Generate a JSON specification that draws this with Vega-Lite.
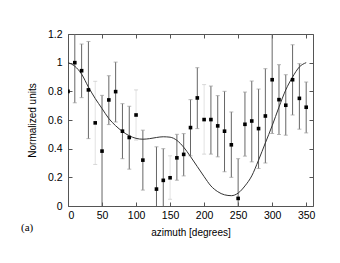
{
  "$schema": "https://vega.github.io/schema/vega-lite/v6.json",
  "width": 245,
  "height": 172,
  "autosize": {"type": "none"},
  "padding": {"left": 68, "top": 34, "right": 27, "bottom": 57},
  "background": "white",
  "config": {
    "view": {"stroke": "#555", "strokeWidth": 1},
    "axis": {
      "grid": false,
      "domain": false,
      "tickColor": "#555",
      "tickSize": -4,
      "labelOverlap": false,
      "labelFont": "Liberation Sans",
      "labelFontSize": 10.5,
      "labelColor": "#000",
      "titleFont": "Liberation Sans",
      "titleFontSize": 10,
      "titleFontWeight": "normal",
      "titleColor": "#000"
    }
  },
  "title": {
    "text": "(a)",
    "orient": "bottom",
    "anchor": "start",
    "frame": "group",
    "dx": -47,
    "dy": -20,
    "font": "Liberation Serif",
    "fontSize": 11,
    "fontWeight": "normal",
    "color": "#000"
  },
  "datasets": {
    "pts": [
      {"az": 0, "v": 0.80, "lo": null, "hi": null},
      {"az": 10, "v": 1.00, "lo": 0.72, "hi": 1.28},
      {"az": 20, "v": 0.944, "lo": 0.756, "hi": 1.13},
      {"az": 30, "v": 0.81, "lo": 0.47, "hi": 1.148},
      {"az": 40, "v": 0.58, "lo": null, "hi": null},
      {"az": 50, "v": 0.383, "lo": -0.01, "hi": 0.772},
      {"az": 60, "v": 0.74, "lo": 0.568, "hi": 0.909},
      {"az": 70, "v": 0.798, "lo": 0.586, "hi": 1.004},
      {"az": 80, "v": 0.522, "lo": 0.33, "hi": 0.714},
      {"az": 90, "v": 0.478, "lo": 0.257, "hi": 0.696},
      {"az": 100, "v": 0.635, "lo": null, "hi": null},
      {"az": 110, "v": 0.32, "lo": 0.111, "hi": 0.529},
      {"az": 130, "v": 0.118, "lo": -0.17, "hi": 0.413},
      {"az": 140, "v": 0.179, "lo": -0.04, "hi": 0.40},
      {"az": 150, "v": 0.197, "lo": null, "hi": null},
      {"az": 160, "v": 0.336, "lo": 0.18, "hi": 0.50},
      {"az": 170, "v": 0.36, "lo": 0.21, "hi": 0.505},
      {"az": 180, "v": 0.547, "lo": 0.35, "hi": 0.742},
      {"az": 190, "v": 0.754, "lo": 0.54, "hi": 0.965},
      {"az": 200, "v": 0.603, "lo": null, "hi": null},
      {"az": 210, "v": 0.603, "lo": 0.362, "hi": 0.837},
      {"az": 220, "v": 0.559, "lo": 0.343, "hi": 0.77},
      {"az": 230, "v": 0.522, "lo": 0.239, "hi": 0.80},
      {"az": 240, "v": 0.427, "lo": 0.20, "hi": 0.656},
      {"az": 250, "v": 0.053, "lo": -0.22, "hi": 0.33},
      {"az": 260, "v": 0.57, "lo": 0.348, "hi": 0.795},
      {"az": 270, "v": 0.593, "lo": 0.308, "hi": 0.872},
      {"az": 280, "v": 0.54, "lo": 0.262, "hi": 0.816},
      {"az": 290, "v": 0.628, "lo": 0.30, "hi": 0.958},
      {"az": 300, "v": 0.881, "lo": 0.506, "hi": 1.256},
      {"az": 310, "v": 0.742, "lo": 0.499, "hi": 0.986},
      {"az": 320, "v": 0.703, "lo": 0.494, "hi": 0.916},
      {"az": 330, "v": 0.881, "lo": 0.635, "hi": 1.125},
      {"az": 340, "v": 0.751, "lo": 0.536, "hi": 0.993},
      {"az": 350, "v": 0.689, "lo": 0.51, "hi": 0.865}
    ],
    "faint": [
      {"az": 40, "lo": 0.29, "hi": 0.87},
      {"az": 100, "lo": 0.46, "hi": 0.81},
      {"az": 150, "lo": 0.047, "hi": 0.35},
      {"az": 200, "lo": 0.362, "hi": 0.847}
    ],
    "curve": [
      {"az": 0, "f": 1.0}, {"az": 10, "f": 0.975}, {"az": 20, "f": 0.92},
      {"az": 30, "f": 0.83}, {"az": 40, "f": 0.75}, {"az": 50, "f": 0.68},
      {"az": 60, "f": 0.61}, {"az": 70, "f": 0.56}, {"az": 80, "f": 0.52},
      {"az": 90, "f": 0.49}, {"az": 100, "f": 0.472}, {"az": 110, "f": 0.466},
      {"az": 120, "f": 0.47}, {"az": 130, "f": 0.478}, {"az": 140, "f": 0.483},
      {"az": 150, "f": 0.48}, {"az": 160, "f": 0.458}, {"az": 170, "f": 0.41},
      {"az": 180, "f": 0.345}, {"az": 190, "f": 0.275}, {"az": 200, "f": 0.205},
      {"az": 210, "f": 0.14}, {"az": 220, "f": 0.1}, {"az": 230, "f": 0.078},
      {"az": 240, "f": 0.072}, {"az": 250, "f": 0.09}, {"az": 260, "f": 0.14},
      {"az": 270, "f": 0.21}, {"az": 280, "f": 0.32}, {"az": 290, "f": 0.44},
      {"az": 300, "f": 0.56}, {"az": 310, "f": 0.69}, {"az": 320, "f": 0.81},
      {"az": 330, "f": 0.9}, {"az": 340, "f": 0.97}, {"az": 350, "f": 1.0}
    ]
  },
  "layer": [
    {
      "data": {"name": "pts"},
      "mark": {"type": "point", "opacity": 0},
      "encoding": {
        "x": {"field": "az", "type": "quantitative",
              "scale": {"domain": [0, 360], "nice": false, "zero": false},
              "axis": {"values": [0, 50, 100, 150, 200, 250, 300, 350], "labelOverlap": false, "labelSeparation": 0, "title": "azimuth [degrees]", "labelPadding": 8, "titlePadding": 7}},
        "y": {"field": "v", "type": "quantitative",
              "scale": {"domain": [0, 1.2], "nice": false},
              "axis": {"values": [0, 0.2, 0.4, 0.6, 0.8, 1, 1.2], "labelOverlap": false, "labelSeparation": 0, "format": "~g", "title": "Normalized units", "labelPadding": 10, "titlePadding": 10}}
      }
    },
    {
      "data": {"name": "pts"},
      "mark": {"type": "point", "opacity": 0},
      "encoding": {
        "x": {"field": "az", "type": "quantitative",
              "axis": {"orient": "top", "values": [0, 50, 100, 150, 200, 250, 300, 350], "labels": false, "title": null}},
        "y": {"field": "v", "type": "quantitative",
              "axis": {"orient": "right", "values": [0, 0.2, 0.4, 0.6, 0.8, 1, 1.2], "labels": false, "title": null}}
      }
    },
    {
      "layer": [
        {
          "data": {"name": "faint"},
          "mark": {"type": "rule", "color": "#e2e2e2", "strokeWidth": 1, "clip": true},
          "encoding": {
            "x": {"field": "az", "type": "quantitative", "axis": null},
            "y": {"field": "lo", "type": "quantitative", "axis": null},
            "y2": {"field": "hi"}
          }
        },
        {
          "data": {"name": "faint"},
          "mark": {"type": "tick", "color": "#c8c8c8", "size": 4, "thickness": 1, "orient": "horizontal", "clip": true},
          "encoding": {
            "x": {"field": "az", "type": "quantitative", "axis": null},
            "y": {"field": "hi", "type": "quantitative", "axis": null}
          }
        },
        {
          "data": {"name": "faint"},
          "mark": {"type": "tick", "color": "#c8c8c8", "size": 4, "thickness": 1, "orient": "horizontal", "clip": true},
          "encoding": {
            "x": {"field": "az", "type": "quantitative", "axis": null},
            "y": {"field": "lo", "type": "quantitative", "axis": null}
          }
        },
        {
          "data": {"name": "pts"},
          "transform": [{"filter": "datum.lo != null"}],
          "mark": {"type": "rule", "color": "#666", "strokeWidth": 1, "clip": true},
          "encoding": {
            "x": {"field": "az", "type": "quantitative", "axis": null},
            "y": {"field": "lo", "type": "quantitative", "axis": null},
            "y2": {"field": "hi"}
          }
        },
        {
          "data": {"name": "pts"},
          "transform": [{"filter": "datum.lo != null"}],
          "mark": {"type": "tick", "color": "#999", "size": 4, "thickness": 1, "orient": "horizontal", "clip": true},
          "encoding": {
            "x": {"field": "az", "type": "quantitative", "axis": null},
            "y": {"field": "hi", "type": "quantitative", "axis": null}
          }
        },
        {
          "data": {"name": "pts"},
          "transform": [{"filter": "datum.lo != null"}],
          "mark": {"type": "tick", "color": "#999", "size": 4, "thickness": 1, "orient": "horizontal", "clip": true},
          "encoding": {
            "x": {"field": "az", "type": "quantitative", "axis": null},
            "y": {"field": "lo", "type": "quantitative", "axis": null}
          }
        },
        {
          "data": {"name": "curve"},
          "mark": {"type": "line", "color": "#333", "strokeWidth": 1, "interpolate": "monotone", "clip": true},
          "encoding": {
            "x": {"field": "az", "type": "quantitative", "axis": null},
            "y": {"field": "f", "type": "quantitative", "axis": null}
          }
        },
        {
          "data": {"name": "pts"},
          "mark": {"type": "point", "shape": "square", "filled": true, "color": "#000", "size": 13, "opacity": 1, "clip": true},
          "encoding": {
            "x": {"field": "az", "type": "quantitative", "axis": null},
            "y": {"field": "v", "type": "quantitative", "axis": null}
          }
        }
      ]
    }
  ],
  "resolve": {"axis": {"x": "independent", "y": "independent"}}
}
